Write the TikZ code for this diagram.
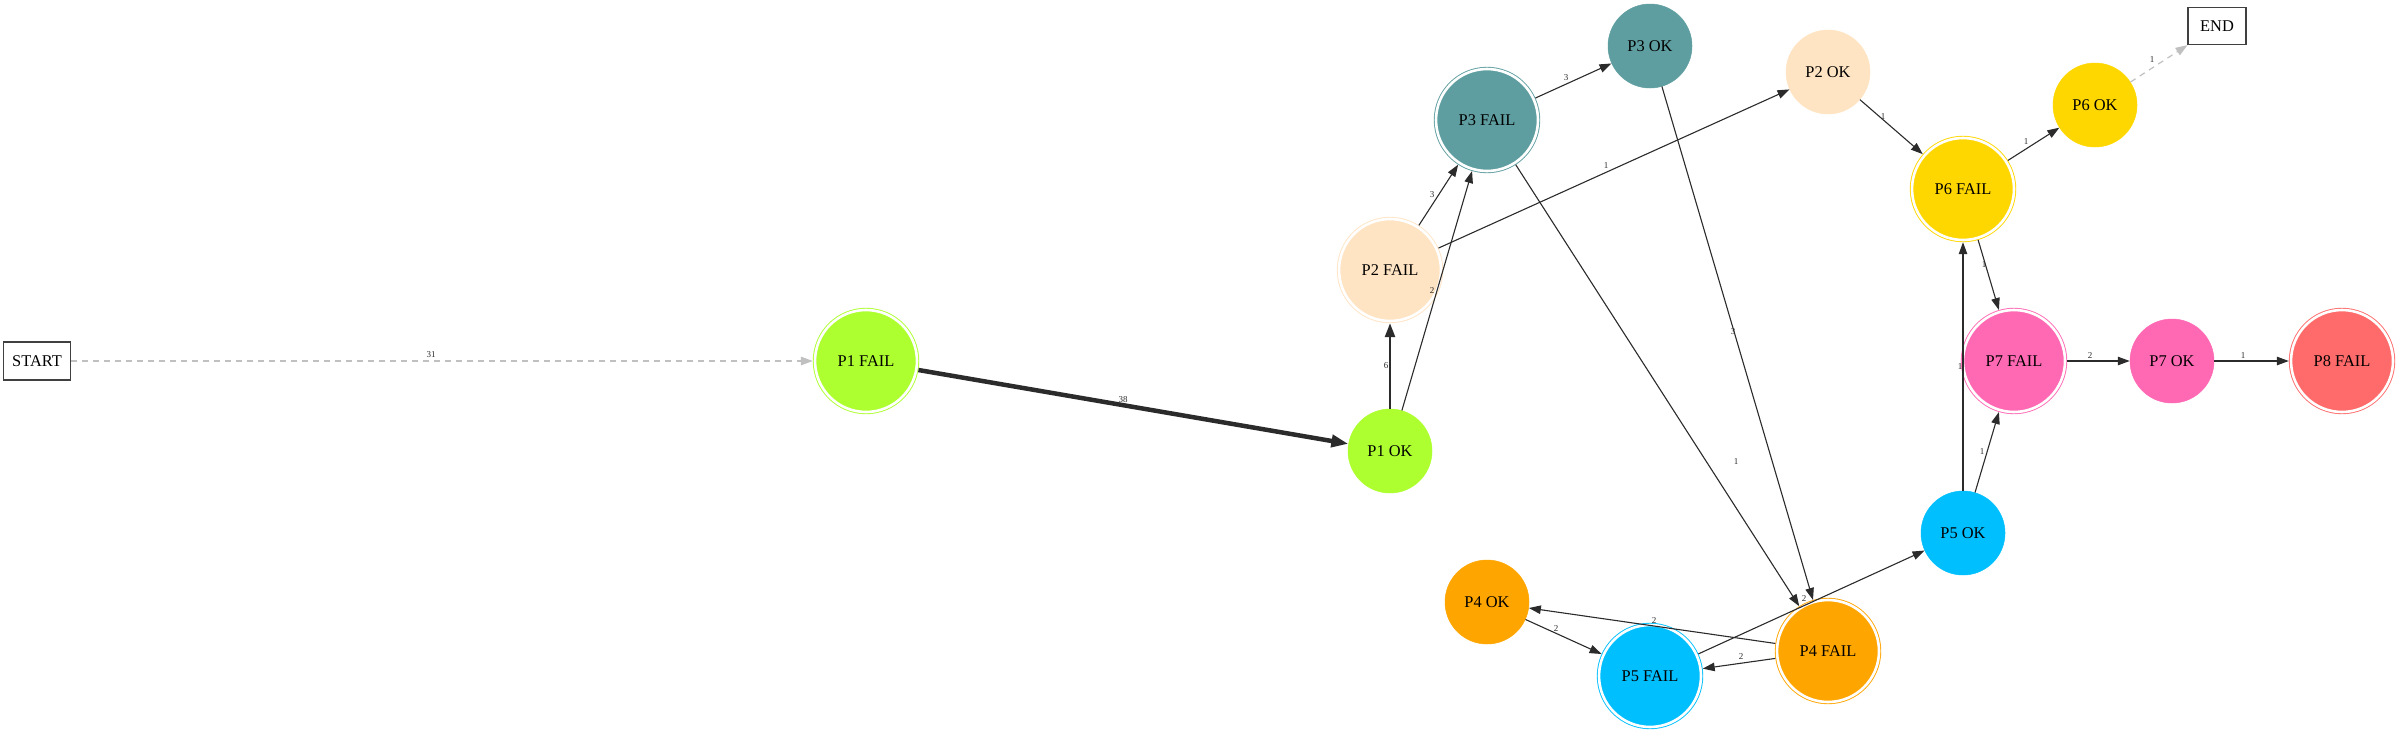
\documentclass[tikz,border=0pt]{standalone}
\usepackage{fontspec}
\setmainfont{Liberation Serif}
\usetikzlibrary{arrows.meta}
\definecolor{cGY}{HTML}{ADFF2F}
\definecolor{cBQ}{HTML}{FFE4C4}
\definecolor{cCB}{HTML}{5F9EA0}
\definecolor{cOR}{HTML}{FFA500}
\definecolor{cDS}{HTML}{00BFFF}
\definecolor{cGD}{HTML}{FFD700}
\definecolor{cHP}{HTML}{FF69B4}
\definecolor{cIR}{HTML}{FF6A6A}
\definecolor{edgec}{HTML}{2B2B2B}
\definecolor{dashc}{HTML}{C0C0C0}
\newcommand{\nodefont}{\fontsize{16.4}{19}\selectfont}
\newcommand{\labfont}{\fontsize{9}{10}\selectfont}
\tikzset{
  okst/.style={circle, inner sep=0pt, minimum size=84pt, fill=#1, draw=#1, line width=0.5pt, font=\nodefont},
  failst/.style={circle, inner sep=0pt, minimum size=102pt, fill=#1, draw=#1, line width=0.9pt, double=white, double distance=2.6pt, outer sep=2.2pt, font=\nodefont},
  term/.style={draw=black!75, line width=1.2pt, rectangle, inner sep=0pt, font=\nodefont},
  edge/.style={draw=edgec, line width=1.1pt, -{Triangle[length=12pt,width=8.5pt]}},
  medge/.style={draw=edgec, line width=2.6pt, -{Triangle[length=14pt,width=10pt]}},
  bedge/.style={draw=edgec, line width=4.5pt, -{Triangle[length=17pt,width=12pt]}},
  gedge/.style={draw=dashc, line width=1.2pt, dash pattern=on 6pt off 5pt, -{Triangle[length=12pt,width=8.5pt]}},
  elab/.style={font=\labfont, text=edgec, inner sep=0pt}
}
\begin{document}
\begin{tikzpicture}[x=1pt,y=-1pt]
\useasboundingbox (0,0) rectangle (2400,734);
% nodes
\node[term, minimum width=67pt, minimum height=38pt] (start) at (37,361) {START};
\node[term, minimum width=58pt, minimum height=37pt] (end) at (2217,26) {END};
\node[failst=cGY] (p1f) at (866,361) {P1 FAIL};
\node[okst=cGY] (p1o) at (1390,451) {P1 OK};
\node[failst=cBQ] (p2f) at (1390,270) {P2 FAIL};
\node[okst=cBQ] (p2o) at (1828,72) {P2 OK};
\node[failst=cCB] (p3f) at (1487,120) {P3 FAIL};
\node[okst=cCB] (p3o) at (1650,46) {P3 OK};
\node[failst=cOR] (p4f) at (1828,651) {P4 FAIL};
\node[okst=cOR] (p4o) at (1487,602) {P4 OK};
\node[failst=cDS] (p5f) at (1650,676) {P5 FAIL};
\node[okst=cDS] (p5o) at (1963,533) {P5 OK};
\node[failst=cGD] (p6f) at (1963,189) {P6 FAIL};
\node[okst=cGD] (p6o) at (2095,105) {P6 OK};
\node[failst=cHP] (p7f) at (2014,361) {P7 FAIL};
\node[okst=cHP] (p7o) at (2172,361) {P7 OK};
\node[failst=cIR] (p8f) at (2342,361) {P8 FAIL};
% edges
\draw[gedge] (start) -- (p1f);
\draw[bedge] (p1f) -- (p1o);
\draw[medge] (p1o) -- (p2f);
\draw[edge] (p1o) -- (p3f);
\draw[edge] (p2f) -- (p3f);
\draw[edge] (p2f) -- (p2o);
\draw[edge] (p3f) -- (p3o);
\draw[edge] (p3f) -- (p4f);
\draw[edge] (p3o) -- (p4f);
\draw[edge] (p2o) -- (p6f);
\draw[edge] (p6f) -- (p6o);
\draw[gedge] (p6o) -- (end);
\draw[edge] (p6f) -- (p7f);
\draw[edge] (p5o) -- (p6f);
\draw[edge] (p5o) -- (p7f);
\draw[edge] (p7f) -- (p7o);
\draw[edge] (p7o) -- (p8f);
\draw[edge] (p4f) -- (p4o);
\draw[edge] (p4o) -- (p5f);
\draw[edge] (p4f) -- (p5f);
\draw[edge] (p5f) -- (p5o);
% edge labels
\node[elab] (l1) at (431,355) {31};
\node[elab] (l2) at (1123,400) {38};
\node[elab] (l3) at (1386,366) {6};
\node[elab] (l4) at (1432,291) {2};
\node[elab] (l5) at (1432,195) {3};
\node[elab] (l6) at (1606,166) {1};
\node[elab] (l7) at (1566,78) {3};
\node[elab] (l8) at (1736,462) {1};
\node[elab] (l9) at (1733,332) {3};
\node[elab] (l10) at (1883,117) {1};
\node[elab] (l11) at (2026,142) {1};
\node[elab] (l12) at (2152,60) {1};
\node[elab] (l13) at (1984,265) {1};
\node[elab] (l14) at (1960,367) {1};
\node[elab] (l15) at (1982,452) {1};
\node[elab] (l16) at (2090,356) {2};
\node[elab] (l17) at (2243,356) {1};
\node[elab] (l18) at (1654,621) {2};
\node[elab] (l19) at (1556,629) {2};
\node[elab] (l20) at (1741,657) {2};
\node[elab] (l21) at (1804,599) {2};
\end{tikzpicture}
\end{document}
